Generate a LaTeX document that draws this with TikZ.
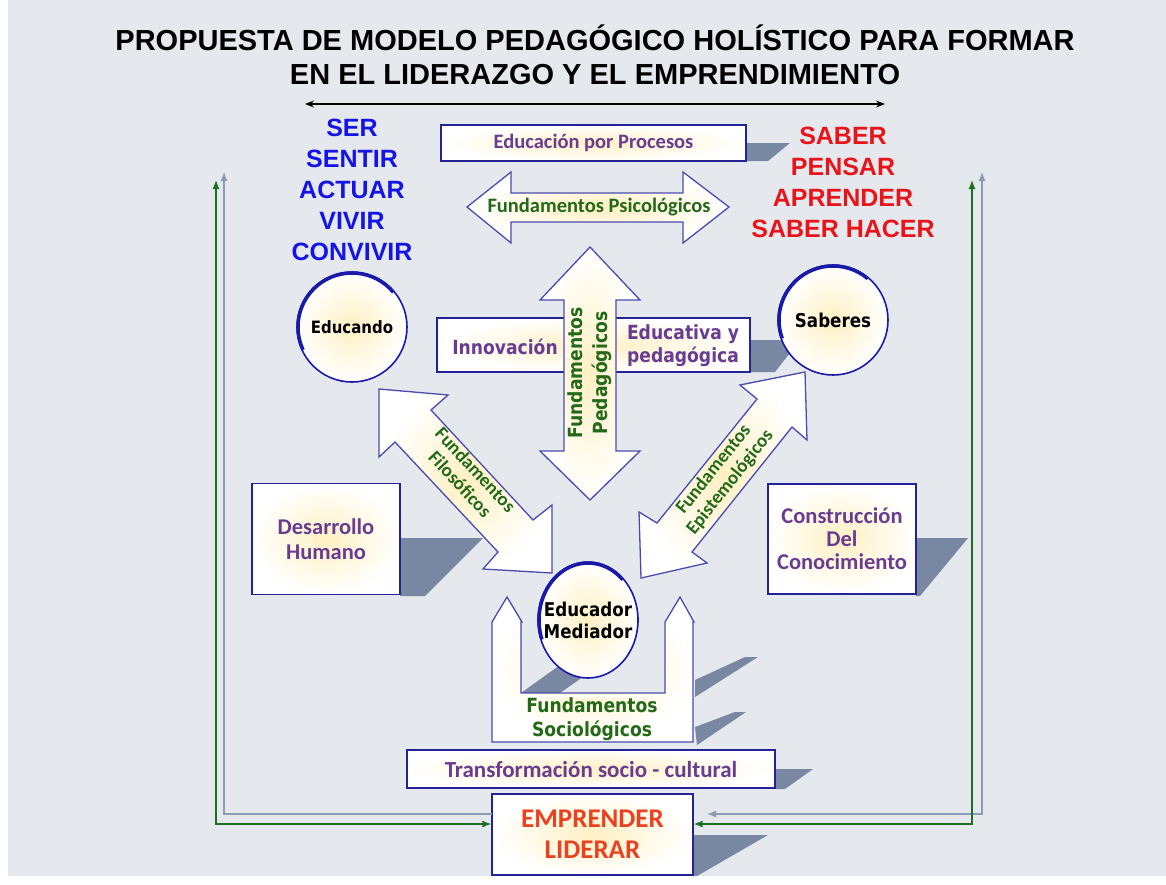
\documentclass[tikz,border=0pt]{standalone}
\usepackage{fontspec}
\setmainfont{Liberation Sans}
\newfontfamily\arialf{Liberation Sans}
\newfontfamily\calf{Carlito}
\newfontfamily\tahf{DejaVu Sans}[FakeStretch=0.88]
\usetikzlibrary{arrows.meta,shapes.geometric}
\definecolor{bgc}{RGB}{229,233,238}
\definecolor{boxline}{RGB}{35,35,150}
\definecolor{arrline}{RGB}{75,75,175}
\definecolor{cream}{RGB}{255,240,195}
\definecolor{shadowc}{RGB}{120,136,162}
\definecolor{purp}{RGB}{105,60,145}
\definecolor{grn}{RGB}{35,105,25}
\definecolor{sergreen}{RGB}{30,110,35}
\definecolor{lgray}{RGB}{140,155,180}
\definecolor{serblue}{RGB}{20,20,230}
\definecolor{sabred}{RGB}{232,20,25}
\definecolor{empred}{RGB}{235,65,30}
\definecolor{circline}{RGB}{25,25,170}
\tikzset{
  boxsty/.style={draw=boxline, line width=1.4pt, shading=radial, inner color=cream, outer color=white, rectangle, inner sep=0pt},
  arrsty/.style={draw=arrline, line width=1.3pt, shading=radial, inner color=cream, outer color=white, line join=miter},
  shad/.style={fill=shadowc, draw=none},
  circsty/.style={draw=circline, line width=1.6pt, shading=radial, inner color=cream, outer color=white, inner sep=0pt},
  thickarc/.style={draw=circline, line width=3.5pt},
  purtext/.style={text=purp, align=center},
  grtext/.style={text=grn, align=center},
  fb/.style={line width=1.2pt},
}
\begin{document}
\begin{tikzpicture}[x=1pt,y=-1pt]
\useasboundingbox (0,0) rectangle (1166,884);
\fill[white] (0,0) rectangle (1166,884);
\fill[bgc] (8,0) rectangle (1166,876);

% title
\node[font=\arialf\bfseries\fontsize{29}{34}\selectfont, align=center, text=black] (title) at (595,55) {PROPUESTA DE MODELO PEDAGÓGICO HOLÍSTICO PARA FORMAR\\EN EL LIDERAZGO Y EL EMPRENDIMIENTO};

% top double arrow
\coordinate (ta) at (305,104);
\coordinate (tb) at (885,104);
\draw[line width=1.2pt, {Stealth[length=9pt,width=7pt]}-{Stealth[length=9pt,width=7pt]}] (ta) -- (tb);

% word columns
\node[font=\arialf\bfseries\fontsize{25}{31}\selectfont, align=center, text=serblue] (ser) at (352,190) {SER\\SENTIR\\ACTUAR\\VIVIR\\CONVIVIR};
\node[font=\arialf\bfseries\fontsize{25}{31}\selectfont, align=center, text=sabred] (saber) at (843,182) {SABER\\PENSAR\\APRENDER\\SABER HACER};

% shadows
\fill[shad] (746,143) -- (790,143) -- (768,161) -- (746,161) -- cycle;
\fill[shad] (750,340) -- (800,340) -- (775,372) -- (750,372) -- cycle;
\fill[shad] (400,538) -- (483,538) -- (425,596) -- (400,596) -- cycle;
\fill[shad] (916,538) -- (968,538) -- (920,596) -- (916,596) -- cycle;
\fill[shad] (775,769) -- (813,769) -- (785,789) -- (775,789) -- cycle;
\fill[shad] (693,835) -- (768,835) -- (697,876) -- (693,876) -- cycle;
\fill[shad] (521,693) -- (560,665) -- (600,665) -- (560,693) -- cycle;
\fill[shad] (695,680) -- (745,657) -- (758,657) -- (695,697) -- cycle;
\fill[shad] (695,727) -- (735,712) -- (746,712) -- (697,745) -- cycle;

% boxes
\node[boxsty, minimum width=305, minimum height=36] (epp) at (593.5,143) {};
\node[boxsty, minimum width=313, minimum height=54] (innov) at (593.5,345) {};
\node[boxsty, minimum width=148, minimum height=111] (desa) at (326,539) {};
\node[boxsty, minimum width=148, minimum height=110] (cons) at (842,539) {};
\node[boxsty, minimum width=368, minimum height=38] (trans) at (591,769) {};
\node[boxsty, minimum width=201, minimum height=81] (empr) at (592.5,834.5) {};

% feedback lines
\coordinate (lg1) at (216,180);
\coordinate (lg2) at (216,824);
\coordinate (ly1) at (224,172);
\coordinate (ly2) at (224,814);
\coordinate (ly3) at (492,814);
\coordinate (rg1) at (972,180);
\coordinate (rg2) at (972,824);
\coordinate (ry1) at (982,172);
\coordinate (ry2) at (982,814);
\coordinate (ry3) at (707,814);
\draw[fb, draw=lgray, -{Latex[length=9pt,width=7pt]}] (ly3) -- (ly2) -- (ly1);
\draw[fb, draw=lgray, {Latex[length=9pt,width=7pt]}-{Latex[length=9pt,width=7pt]}] (ry3) -- (ry2) -- (ry1);
\draw[fb, draw=sergreen, {Latex[length=9pt,width=7pt]}-{Latex[length=9pt,width=7pt]}] (lg1) -- (lg2) -- (empr.west |- lg2);
\draw[fb, draw=sergreen, {Latex[length=9pt,width=7pt]}-{Latex[length=9pt,width=7pt]}] (rg1) -- (rg2) -- (empr.east |- rg2);

% big arrows
\draw[arrsty] (467,207) -- (511,172) -- (511,193) -- (683,193) -- (683,172) -- (729,207) -- (683,243) -- (683,222) -- (511,222) -- (511,243) -- cycle;
\draw[arrsty] (590,247) -- (640,300) -- (616,300) -- (616,451) -- (640,451) -- (590,500) -- (540,451) -- (564,451) -- (564,300) -- (540,300) -- cycle;
\draw[arrsty] (379,389) -- (448,395) -- (431,410) -- (533,520) -- (552,505) -- (552,573) -- (483,569) -- (498,552) -- (395,442) -- (379,457) -- cycle;
\draw[arrsty] (805,372) -- (807,440) -- (792,427) -- (692,552) -- (707,563) -- (641,578) -- (639,512) -- (657,523) -- (757,399) -- (740,385) -- cycle;

% sociologicos U shape
\draw[arrsty] (492,742) -- (492,622) -- (507,597) -- (522,622) -- (521,622) -- (521,693) -- (665,693) -- (665,622) -- (665,622) -- (680,597) -- (694,622) -- (693,622) -- (693,742) -- cycle;
\draw[white, line width=1.2pt] (494,696) -- (691,696);

% circles
\node[circsty, circle, minimum size=110] (educando) at (352,327) {};
\node[circsty, circle, minimum size=110] (saberes) at (833,320) {};
\node[circsty, ellipse, minimum width=100, minimum height=116] (educador) at (588,620) {};
\begin{scope}[yscale=-1]
\draw[thickarc] ([shift={(352,-327)}]40:54) arc[start angle=40, end angle=205, radius=54];
\draw[thickarc] ([shift={(833,-320)}]50:54) arc[start angle=50, end angle=200, radius=54];
\draw[thickarc] ([shift={(588,-620)}]45:{49 and 57}) arc[start angle=45, end angle=200, x radius=49, y radius=57];
\end{scope}

% texts
\node[purtext, font=\calf\bfseries\fontsize{20.5}{24}\selectfont] (teppt) at (epp) {Educación por Procesos};
\node[grtext, font=\calf\bfseries\fontsize{20.5}{23}\selectfont] (tpsi) at (599,207) {Fundamentos Psicológicos};
\node[grtext, font=\tahf\bfseries\fontsize{19.5}{25}\selectfont, rotate=90] (tped) at (590,373) {Fundamentos\\Pedagógicos};
\node[purtext, font=\tahf\bfseries\fontsize{19.5}{24}\selectfont] (tinn) at (505,347) {Innovación};
\node[purtext, font=\tahf\bfseries\fontsize{19.5}{23}\selectfont] (tedu) at (683,346) {Educativa y\\pedagógica};
\node[grtext, font=\calf\bfseries\fontsize{19}{21}\selectfont, rotate=-47] (tfil) at (468,477) {Fundamentos\\Filosóficos};
\node[grtext, font=\calf\bfseries\fontsize{19}{21}\selectfont, rotate=51.5] (tepi) at (722,476) {Fundamentos\\Epistemológicos};
\node[purtext, font=\calf\bfseries\fontsize{22.5}{25}\selectfont] (tdesa) at (desa) {Desarrollo\\Humano};
\node[purtext, font=\calf\bfseries\fontsize{22.5}{23}\selectfont] (tcons) at (cons) {Construcción\\Del\\Conocimiento};
\node[grtext, font=\tahf\bfseries\fontsize{19.5}{24}\selectfont] (tsoc) at (592,719) {Fundamentos\\Sociológicos};
\node[purtext, font=\calf\bfseries\fontsize{23}{24}\selectfont] (ttrans) at (trans) {Transformación socio - cultural};
\node[font=\calf\bfseries\fontsize{27}{31}\selectfont, align=center, text=empred] (tempr) at (empr) {EMPRENDER\\LIDERAR};
\node[font=\tahf\bfseries\fontsize{17}{20}\selectfont, text=black] (teducando) at (educando) {Educando};
\node[font=\tahf\bfseries\fontsize{19}{20}\selectfont, text=black] (tsaberes) at (saberes) {Saberes};
\node[font=\tahf\bfseries\fontsize{19}{22}\selectfont, text=black, align=center] (teducador) at (educador) {Educador\\Mediador};
\end{tikzpicture}
\end{document}
